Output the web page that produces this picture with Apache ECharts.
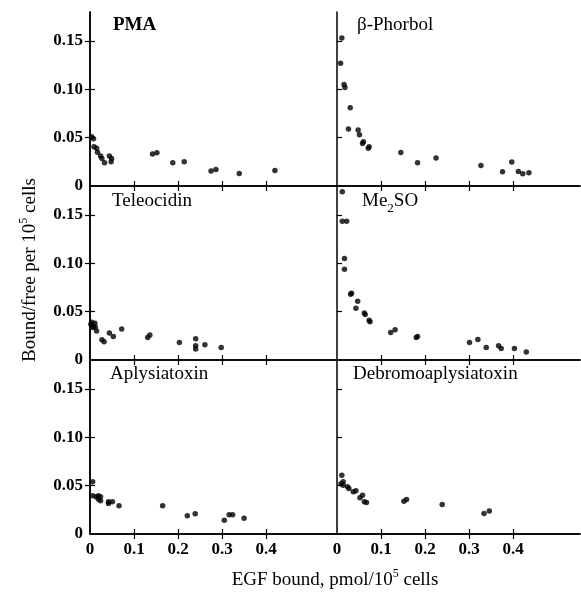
<!DOCTYPE html>
<html><head><meta charset="utf-8">
<script src="https://cdn.jsdelivr.net/npm/echarts@6/dist/echarts.min.js"></script>
<style>html,body{margin:0;padding:0;background:#fff}#c{width:581px;height:594px}</style>
</head><body><div id="c"></div>
<script>
// ---- data ----
const panelNames = ['PMA', 'β-Phorbol', 'Teleocidin', 'Me2SO', 'Aplysiatoxin', 'Debromoaplysiatoxin'];
const xTicks = [0, 0.1, 0.2, 0.3, 0.4];
const yTicks = [0, 0.05, 0.10, 0.15];
const xLabel = 'EGF bound, pmol/10';
const yLabel = 'Bound/free per 10';

const pma = [[0.004,0.051],[0.008,0.049],[0.009,0.0405],[0.015,0.039],[0.017,0.035],[0.024,0.031],[0.027,0.0285],[0.033,0.024],[0.044,0.031],[0.049,0.0285],[0.048,0.025],[0.142,0.033],[0.152,0.0345],[0.188,0.024],[0.214,0.025],[0.275,0.0155],[0.286,0.017],[0.339,0.013],[0.42,0.016]];
const phorbol = [[0.011,0.153],[0.008,0.127],[0.016,0.105],[0.018,0.102],[0.03,0.081],[0.026,0.059],[0.048,0.058],[0.051,0.053],[0.058,0.044],[0.06,0.0457],[0.071,0.039],[0.073,0.0405],[0.145,0.0347],[0.183,0.024],[0.225,0.029],[0.327,0.0213],[0.376,0.0148],[0.397,0.0247],[0.412,0.015],[0.422,0.0127],[0.436,0.0137]];
const teleocidin = [[0.002,0.037],[0.004,0.039],[0.006,0.0337],[0.008,0.035],[0.011,0.038],[0.012,0.034],[0.015,0.030],[0.027,0.021],[0.032,0.019],[0.044,0.028],[0.053,0.0244],[0.072,0.032],[0.131,0.0234],[0.136,0.0258],[0.203,0.018],[0.240,0.022],[0.240,0.0148],[0.240,0.0113],[0.261,0.0158],[0.298,0.013]];
const me2so = [[0.012,0.174],[0.012,0.1436],[0.022,0.1436],[0.017,0.105],[0.017,0.094],[0.031,0.068],[0.033,0.069],[0.047,0.0608],[0.043,0.0536],[0.062,0.0485],[0.064,0.047],[0.073,0.0412],[0.075,0.0395],[0.122,0.0285],[0.132,0.0313],[0.180,0.0234],[0.183,0.0244],[0.301,0.018],[0.32,0.0213],[0.339,0.013],[0.367,0.0148],[0.373,0.012],[0.403,0.012],[0.43,0.0082]];
const aplysia = [[0.006,0.054],[0.006,0.0395],[0.014,0.0385],[0.019,0.0395],[0.024,0.0385],[0.024,0.0343],[0.019,0.036],[0.042,0.0333],[0.042,0.0316],[0.051,0.0333],[0.066,0.0292],[0.165,0.0292],[0.221,0.0189],[0.239,0.021],[0.305,0.0141],[0.316,0.0199],[0.324,0.0199],[0.35,0.0162]];
const debromo = [[0.011,0.0608],[0.009,0.052],[0.014,0.054],[0.014,0.0505],[0.024,0.0488],[0.027,0.047],[0.037,0.0436],[0.043,0.0447],[0.052,0.0374],[0.058,0.0402],[0.062,0.0333],[0.067,0.0326],[0.152,0.034],[0.158,0.0357],[0.239,0.0306],[0.334,0.0213],[0.346,0.0237]];
const panelData = [pma, phorbol, teleocidin, me2so, aplysia, debromo];

// ---- layout ----
const FONT = "'Liberation Serif','Times New Roman',serif";
const colLeft = [90, 337], colWidth = [247, 243], colMax = [0.561, 0.552];
const rowTop = [12, 186, 360], rowHeight = 174, yMax = 0.18;
const grids = [], xAxes = [], yAxes = [], series = [];
for (let i = 0; i < 6; i++) {
  const c = i % 2, r = Math.floor(i / 2);
  grids.push({left: colLeft[c], top: rowTop[r], width: colWidth[c], height: rowHeight});
  const axisLine = {show: true, lineStyle: {color: '#000', width: 1.5}};
  const tick = {show: true, inside: false, length: -5, lineStyle: {color: '#000', width: 1.2}};
  xAxes.push({type: 'value', gridIndex: i, position: 'bottom', min: 0, max: colMax[c],
    axisLine, axisTick: Object.assign({customValues: xTicks.slice(1)}, tick), splitLine: {show: false},
    axisLabel: {show: r === 2, customValues: xTicks, margin: 7, color: '#000', fontFamily: FONT, fontSize: 17, fontWeight: 'bold',
      formatter: v => v === 0 ? '0' : v.toFixed(1)}});
  xAxes.push({type: 'value', gridIndex: i, position: 'top', min: 0, max: colMax[c],
    axisLine, axisTick: Object.assign({customValues: xTicks.slice(1)}, tick), splitLine: {show: false}, axisLabel: {show: false}});
  yAxes.push({type: 'value', gridIndex: i, position: 'left', min: 0, max: yMax,
    axisLine, axisTick: Object.assign({customValues: yTicks.slice(1)}, tick), splitLine: {show: false},
    axisLabel: {show: c === 0, customValues: yTicks, margin: 7, color: '#000', fontFamily: FONT, fontSize: 17, fontWeight: 'bold',
      formatter: v => v === 0 ? '0' : v.toFixed(2)}});
  yAxes.push({type: 'value', gridIndex: i, position: 'right', min: 0, max: yMax, show: c === 0,
    axisLine, axisTick: Object.assign({customValues: yTicks.slice(1)}, tick), splitLine: {show: false}, axisLabel: {show: false}});
  series.push({type: 'scatter', xAxisIndex: 2 * i, yAxisIndex: 2 * i, data: panelData[i], symbolSize: 5.5,
    itemStyle: {color: '#000'}, silent: true});
}

const titlePos = [[113, 29], [357, 29], [112, 205], [362, 205], [110, 378], [353, 378]];
const graphic = panelNames.map((n, i) => {
  const rich = {a: {fontFamily: FONT, fontSize: 19, fontWeight: i === 0 ? 'bold' : 'normal', color: '#000', verticalAlign: 'bottom', lineHeight: 24, padding: [0, 0, 4, 0]},
                s: {fontFamily: FONT, fontSize: 13, color: '#000', verticalAlign: 'bottom', lineHeight: 24}};
  let text;
  if (n === 'Me2SO') text = '{a|Me}{s|2}{a|SO}';
  else text = '{a|' + n + '}';
  return {type: 'text', left: titlePos[i][0], top: titlePos[i][1] - 13, style: {text, rich}};
});
const labRich = {a: {fontFamily: FONT, fontSize: 19, color: '#000', verticalAlign: 'bottom', lineHeight: 24},
                 p: {fontFamily: FONT, fontSize: 12, color: '#000', verticalAlign: 'bottom', lineHeight: 24, padding: [0, 0, 10, 0]}};
graphic.push({type: 'text', x: 335, y: 578, style: {text: '{a|' + xLabel + '}{p|5}{a| cells}', rich: labRich, align: 'center', verticalAlign: 'middle'}});
graphic.push({type: 'text', x: 28, y: 270, rotation: Math.PI / 2, style: {text: '{a|' + yLabel + '}{p|5}{a| cells}', rich: labRich, align: 'center', verticalAlign: 'middle'}});

const chart = echarts.init(document.getElementById('c'), null, {renderer: 'canvas'});
chart.setOption({animation: false, backgroundColor: '#fff', grid: grids, xAxis: xAxes, yAxis: yAxes, series, graphic});
</script></body></html>
